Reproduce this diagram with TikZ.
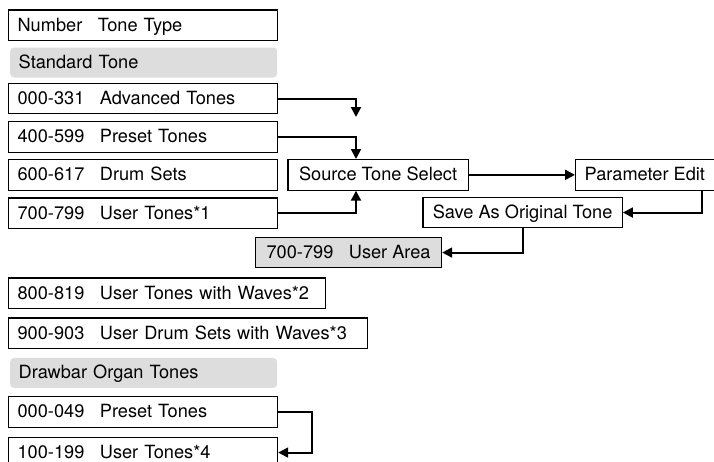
\documentclass[tikz,border=0pt]{standalone}
\usepackage{fontspec}
\setmainfont{TeX Gyre Heros}
\usetikzlibrary{arrows.meta}
\definecolor{barfill}{HTML}{DDDDDD}
\newcommand{\gp}{\hspace{15.5pt}}
\begin{document}
\begin{tikzpicture}[x=1pt,y=-1pt,
  base/.style={inner ysep=0pt, text height=16pt, text depth=4pt, anchor=north west, font=\fontsize{18.2}{20}\selectfont},
  bx/.style={base, draw, line width=1.2pt, text width=#1, align=left, inner xsep=9pt, minimum height=30.5pt},
  nb/.style={base, draw, line width=1.2pt, minimum width=#1, inner xsep=2pt, minimum height=30.5pt},
  bar/.style={base, fill=barfill, rounded corners=4pt, text width=#1, align=left, inner xsep=8.5pt, minimum height=30pt},
  conn/.style={line width=2pt, -{Triangle[length=10pt,width=10pt]}}]
\useasboundingbox (0,0) rectangle (714,461);
\node[bx=251pt] (hdr) at (8,9.3) {Number\gp Tone Type};
\node[bar=250pt] (std) at (10,47.3) {Standard Tone};
\node[bx=251pt] (adv) at (8,82.7) {000-331\gp Advanced Tones};
\node[bx=251pt] (pre) at (8,121) {400-599\gp Preset Tones};
\node[bx=251pt] (drm) at (8,159) {600-617\gp Drum Sets};
\node[bx=251pt] (ut1) at (8,197.3) {700-799\gp User Tones*1};
\node[nb=180.4pt] (src) at (287.3,159) {Source Tone Select};
\node[nb=138.5pt] (par) at (575,159) {Parameter Edit};
\node[nb=199.4pt] (sav) at (422.3,196.7) {Save As Original Tone};
\node[nb=186pt, fill=barfill] (ua) at (255,236.7) {700-799\gp User Area};
\node[bx=299pt] (ut2) at (8,277.3) {800-819\gp User Tones with Waves*2};
\node[bx=340.7pt] (ud3) at (8,317.3) {900-903\gp User Drum Sets with Waves*3};
\node[bar=250pt] (dbo) at (10,357.7) {Drawbar Organ Tones};
\node[bx=251pt] (dpt) at (8,396) {000-049\gp Preset Tones};
\node[bx=251pt, text height=14pt, text depth=2pt] (ut4) at (8,436.7) {100-199\gp User Tones*4};
\coordinate (sx) at (356,0);
\coordinate (c1) at (356,117);
\coordinate (px) at (702,0);
\coordinate (dx) at (311.7,0);
\draw[conn] (adv.east) -| (c1);
\draw[conn] (pre.east) -| (sx |- src.north);
\draw[conn] (ut1.east) -| (sx |- src.south);
\draw[conn] (src.east) -- (par.west);
\draw[conn] (px |- par.south) |- (sav.east);
\draw[conn] (sav.south) |- (ua.east);
\draw[conn] (dpt.east) -| (dx |- ut4.east) -- (ut4.east);
\end{tikzpicture}
\end{document}
